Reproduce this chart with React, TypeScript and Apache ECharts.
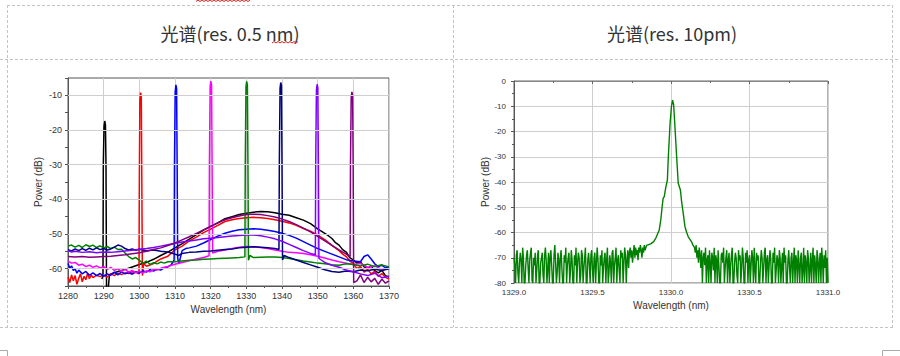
import React, { useEffect, useRef } from 'react';
import * as echarts from 'echarts';

type Pt = [number, number];

// ---------- header texts ----------
const titleLeft = '光谱(res. 0.5 nm)';
const titleRight = '光谱(res. 10pm)';
const axisNameX = 'Wavelength (nm)';
const axisNameY = 'Power (dB)';

// ---------- left chart (res 0.5 nm), eight channels ----------
const leftGridDb = [-10, -20, -30, -40, -50, -60];

const traceBlack: Pt[] = [[1289.5,-63],[1289.8,-62],[1289.9,-30],[1290.1,-18.8],[1290.3,-17.4],[1290.5,-18.5],[1290.65,-30],[1290.8,-65.5],[1291.3,-65.5],[1291.6,-62],[1292,-61.5],[1294,-60.8],[1296,-60.2],[1298,-59.5],[1300,-58.8],[1302,-58.2],[1304,-57.3],[1306,-56.2],[1308,-55.2],[1310,-54],[1312,-52.8],[1314,-51.5],[1316,-50.2],[1318,-48.9],[1320,-47.8],[1322,-46.8],[1324,-45.6],[1326,-45],[1328,-44.4],[1330,-44],[1332,-43.7],[1334,-43.5],[1336,-43.6],[1338,-43.9],[1340,-44.3],[1342,-44.6],[1344,-45.3],[1346,-46],[1348,-47],[1350,-48.5],[1352,-49.8],[1353,-50.5],[1354,-51.3],[1355,-52.5],[1356,-53.2],[1357,-54.5],[1358,-55.2],[1359,-56.8],[1360,-57.5],[1361,-58.4],[1362,-58],[1363,-59.5],[1364,-60],[1365,-59.2],[1366,-60.6],[1367,-61.2],[1368,-60.5],[1369,-62],[1370,-62.4]];

const traceRed: Pt[] = [[1280,-62.5],[1280.5,-64],[1281,-61.8],[1281.5,-63.5],[1282,-62],[1282.5,-64.5],[1283,-62.8],[1283.5,-61.5],[1284,-63.8],[1284.5,-62.2],[1285,-63.2],[1285.5,-61.3],[1286,-62.9],[1286.5,-61.8],[1287,-62.6],[1288,-61.9],[1289,-62.3],[1290,-61.8],[1291,-62.4],[1292,-61.5],[1293,-62],[1294,-61.3],[1295,-61.7],[1296,-61.2],[1297,-61.4],[1298,-60.9],[1299,-61],[1299.9,-61.5],[1300.0,-35],[1300.15,-11],[1300.35,-9.2],[1300.55,-10.5],[1300.7,-35],[1300.85,-62],[1301.2,-58.5],[1302,-59.3],[1304,-58.5],[1306,-57.2],[1308,-56.4],[1310,-54.6],[1312,-53.5],[1314,-52],[1316,-50.9],[1318,-49.6],[1320,-48.6],[1322,-47.5],[1324,-46.4],[1326,-45.9],[1328,-45.5],[1330,-45.3],[1332,-45.2],[1334,-45.3],[1336,-45.5],[1338,-45.9],[1340,-46.3],[1342,-46.8],[1344,-47.5],[1346,-48.4],[1348,-49.2],[1350,-50.3],[1352,-51.6],[1354,-53.3],[1356,-54.8],[1357,-55.8],[1358,-56.5],[1359,-57.8],[1360,-58.5],[1361,-60],[1362,-59.4],[1363,-61],[1364,-60.2],[1365,-61.5],[1366,-60.8],[1367,-62.2],[1368,-61.4],[1369,-62.5],[1370,-63]];

const traceBlue: Pt[] = [[1280,-58.5],[1280.5,-59.8],[1281,-59.2],[1281.5,-60.5],[1282,-60],[1282.5,-61.3],[1283,-60.4],[1284,-61.5],[1285,-60.8],[1286,-61.9],[1287,-61.2],[1288,-62],[1289,-61.4],[1290,-62.2],[1291,-61.5],[1292,-61.9],[1293,-61],[1294,-61.8],[1295,-60.9],[1296,-61.5],[1297,-61.1],[1298,-61.6],[1299,-60.9],[1300,-61.3],[1301,-60.6],[1302,-61],[1303,-60.3],[1304,-60.7],[1305,-60.1],[1306,-60.4],[1307,-59.7],[1308,-59.5],[1309,-58.8],[1309.75,-57.5],[1309.85,-30],[1310.05,-9],[1310.25,-7],[1310.45,-8],[1310.6,-30],[1310.75,-57],[1311.1,-58.5],[1312,-54.8],[1313,-54.2],[1314,-54],[1316,-53.5],[1318,-52.6],[1320,-51.6],[1322,-50.6],[1324,-49.8],[1326,-49.2],[1328,-48.8],[1330,-48.6],[1332,-48.5],[1334,-48.6],[1336,-48.9],[1338,-49.3],[1340,-49.8],[1342,-50.4],[1344,-51.2],[1346,-52.2],[1348,-53.2],[1350,-54.2],[1352,-55],[1354,-55.8],[1356,-56.6],[1358,-57.4],[1360,-57.8],[1362,-58],[1363,-56.5],[1364,-56],[1365,-57.2],[1366,-58.6],[1367,-59.4],[1368,-59],[1369,-59.8],[1370,-59.5]];

const traceMagenta: Pt[] = [[1280,-57.8],[1281,-58.4],[1282,-58.2],[1283,-59],[1284,-58.7],[1285,-59.4],[1286,-59],[1287,-59.6],[1288,-59.2],[1289,-59.8],[1290,-59.4],[1291,-60.2],[1292,-59.6],[1293,-60.5],[1294,-60],[1295,-60.8],[1296,-60.2],[1297,-61],[1298,-60.5],[1299,-61.2],[1300,-60.7],[1301,-61.3],[1302,-60.6],[1303,-60.9],[1304,-60.2],[1305,-60.4],[1306,-59.9],[1307,-59.6],[1308,-59.4],[1309,-59],[1310,-58.7],[1312,-58.2],[1314,-57.7],[1316,-57.2],[1318,-56.8],[1319.55,-56.3],[1319.65,-30],[1319.85,-7.5],[1320.05,-5.9],[1320.25,-7],[1320.4,-30],[1320.55,-55.5],[1322,-55],[1324,-54.6],[1326,-54.2],[1328,-53.8],[1330,-53.6],[1332,-53.7],[1334,-53.9],[1336,-54.2],[1338,-54.6],[1340,-55],[1342,-55.3],[1344,-55.4],[1346,-55.6],[1348,-56],[1350,-56.4],[1352,-56.9],[1354,-57.5],[1356,-58],[1358,-58.4],[1360,-58.8],[1362,-58.5],[1364,-59.6],[1366,-59.2],[1368,-60.3],[1370,-60]];

const traceGreen: Pt[] = [[1280,-53.5],[1281,-53.2],[1282,-53.8],[1283,-53.3],[1284,-53.9],[1285,-53.1],[1286,-53.6],[1287,-53.2],[1288,-53.9],[1289,-53.4],[1290,-54],[1291,-53.6],[1292,-54.2],[1293,-53.8],[1294,-54.5],[1295,-54.4],[1296,-55.5],[1297,-56.5],[1298,-57.2],[1299,-56.8],[1300,-57.6],[1301,-58.4],[1302,-57.8],[1303,-58.8],[1304,-58.3],[1305,-58.6],[1306,-58.1],[1307,-58.4],[1308,-58],[1310,-58],[1312,-57.8],[1314,-57.6],[1316,-57.5],[1318,-57.3],[1320,-57.2],[1322,-57.1],[1324,-57],[1326,-56.9],[1328,-56.8],[1329.6,-56.6],[1329.7,-30],[1329.9,-7.5],[1330.1,-6],[1330.3,-7],[1330.45,-30],[1330.6,-57.6],[1331.0,-56.2],[1332,-56.8],[1334,-56.7],[1336,-56.6],[1338,-56.6],[1340,-56.8],[1342,-57.1],[1344,-57.4],[1346,-57.8],[1348,-58.1],[1350,-58.4],[1352,-58.6],[1354,-58.9],[1356,-59],[1358,-58.6],[1360,-58.8],[1362,-59.2],[1364,-58.7],[1366,-59.4],[1368,-58.9],[1370,-59.5]];

const traceNavy: Pt[] = [[1280,-54.5],[1281,-54.9],[1282,-54.3],[1283,-54.8],[1284,-54.2],[1285,-54.7],[1286,-54.1],[1287,-54.6],[1288,-54],[1289,-54.5],[1290,-54.2],[1291,-54.6],[1292,-54.3],[1293,-53.8],[1294,-53.2],[1295,-53.5],[1296,-54.2],[1297,-54.6],[1298,-54.3],[1299,-54.7],[1300,-54.4],[1302,-54.8],[1304,-54.6],[1306,-55],[1308,-55.2],[1310,-55.8],[1311,-56.2],[1312,-55.6],[1314,-55.3],[1316,-55.2],[1318,-55],[1320,-54.9],[1322,-54.7],[1324,-54.5],[1326,-54.3],[1328,-54],[1330,-53.8],[1332,-53.7],[1334,-53.8],[1336,-54],[1338,-54.2],[1339.15,-54.5],[1339.25,-30],[1339.45,-8],[1339.65,-6.3],[1339.85,-7.2],[1340.0,-30],[1340.15,-57.5],[1340.6,-56.2],[1342,-56.8],[1344,-57.5],[1346,-58.2],[1348,-58.9],[1350,-59.6],[1352,-60.3],[1354,-60.8],[1356,-61],[1358,-60.7],[1360,-60.9],[1362,-60.4],[1364,-60.6],[1366,-60.2],[1368,-60.5],[1370,-60]];

const traceViolet: Pt[] = [[1280,-54.8],[1281,-55.2],[1282,-55],[1284,-55.3],[1286,-55.1],[1288,-55.4],[1290,-55.2],[1292,-55.3],[1294,-55.1],[1296,-54.9],[1298,-54.7],[1300,-54.4],[1302,-54.2],[1304,-53.9],[1306,-53.5],[1308,-53.1],[1310,-52.7],[1312,-52.3],[1314,-52],[1316,-51.7],[1318,-51.4],[1320,-51.2],[1322,-51],[1324,-50.8],[1326,-50.6],[1328,-50.4],[1330,-50.3],[1332,-50.3],[1334,-50.5],[1336,-50.9],[1338,-51.4],[1340,-52.1],[1342,-53],[1344,-53.9],[1346,-54.8],[1348,-55.6],[1349.35,-56],[1349.45,-30],[1349.65,-8.5],[1349.85,-6.8],[1350.05,-7.8],[1350.2,-30],[1350.35,-57],[1351,-57.5],[1352,-58.2],[1354,-59],[1356,-59.6],[1358,-60.4],[1360,-60.9],[1362,-61.5],[1364,-62],[1366,-61.3],[1368,-62.6],[1370,-62.2]];

const tracePurple: Pt[] = [[1280,-56.5],[1282,-56.6],[1284,-56.5],[1286,-56.7],[1288,-56.6],[1290,-56.5],[1292,-56.4],[1294,-56.2],[1296,-56],[1298,-55.7],[1300,-55.4],[1302,-55],[1304,-54.5],[1306,-54],[1308,-53.3],[1310,-52.6],[1312,-51.7],[1314,-50.8],[1316,-49.8],[1318,-48.8],[1320,-47.8],[1322,-46.8],[1324,-45.9],[1326,-45.3],[1328,-44.8],[1330,-44.4],[1332,-44.3],[1334,-44.4],[1336,-44.7],[1338,-45.1],[1340,-45.7],[1342,-46.4],[1344,-47.3],[1346,-48.3],[1348,-49.4],[1350,-50.7],[1352,-52],[1354,-53.3],[1356,-54.6],[1358,-55.8],[1359.1,-56.5],[1359.2,-30],[1359.4,-10.5],[1359.6,-9],[1359.8,-10],[1359.95,-30],[1360.1,-64],[1361,-63.5],[1362,-61.8],[1363,-64],[1364,-62.5],[1365,-63.8],[1366,-62.8],[1367,-64.5],[1368,-63],[1369,-64.2],[1370,-63.5]];

const leftTraces = [
  { name: '1290', color: '#000000', data: traceBlack },
  { name: '1300', color: '#ff0000', data: traceRed },
  { name: '1310', color: '#0000ff', data: traceBlue },
  { name: '1320', color: '#ff00ff', data: traceMagenta },
  { name: '1330', color: '#008000', data: traceGreen },
  { name: '1340', color: '#000080', data: traceNavy },
  { name: '1350', color: '#8000ff', data: traceViolet },
  { name: '1360', color: '#800080', data: tracePurple },
];

// ---------- right chart (res 10 pm), 1330 nm channel ----------
const noiseLeft: Pt[] = [[1329.000,-70],[1329.005,-73],[1329.010,-80],[1329.015,-69],[1329.020,-67],[1329.025,-76],[1329.030,-80],[1329.035,-72],[1329.040,-68],[1329.045,-71],
[1329.050,-80],[1329.055,-66],[1329.060,-70],[1329.065,-80],[1329.070,-80],[1329.075,-73],[1329.080,-69],[1329.085,-67],[1329.090,-74],[1329.095,-80],
[1329.100,-71],[1329.105,-68],[1329.110,-66],[1329.115,-79],[1329.120,-80],[1329.125,-70],[1329.130,-73],[1329.135,-68],[1329.140,-80],[1329.145,-75],
[1329.150,-69],[1329.155,-67],[1329.160,-80],[1329.165,-80],[1329.170,-72],[1329.175,-70],[1329.180,-68],[1329.185,-77],[1329.190,-80],[1329.195,-69],
[1329.200,-66],[1329.205,-71],[1329.210,-80],[1329.215,-74],[1329.220,-68],[1329.225,-80],[1329.230,-70],[1329.235,-67],[1329.240,-73],[1329.245,-80],
[1329.250,-80],[1329.255,-69],[1329.260,-65],[1329.265,-72],[1329.270,-80],[1329.275,-76],[1329.280,-68],[1329.285,-71],[1329.290,-80],[1329.295,-70],
[1329.300,-67],[1329.305,-74],[1329.310,-80],[1329.315,-80],[1329.320,-69],[1329.325,-72],[1329.330,-66],[1329.335,-80],[1329.340,-73],[1329.345,-70],
[1329.350,-68],[1329.355,-80],[1329.360,-75],[1329.365,-67],[1329.370,-71],[1329.375,-80],[1329.380,-80],[1329.385,-69],[1329.390,-73],[1329.395,-66],
[1329.400,-80],[1329.405,-72],[1329.410,-68],[1329.415,-70],[1329.420,-80],[1329.425,-77],[1329.430,-67],[1329.435,-69],[1329.440,-80],[1329.445,-74],
[1329.450,-70],[1329.455,-66],[1329.460,-80],[1329.465,-80],[1329.470,-71],[1329.475,-68],[1329.480,-73],[1329.485,-80],[1329.490,-69],[1329.495,-67],
[1329.500,-75],[1329.505,-80],[1329.510,-70],[1329.515,-68],[1329.520,-80],[1329.525,-72],[1329.530,-66],[1329.535,-71],[1329.540,-80],[1329.545,-80],
[1329.550,-69],[1329.555,-73],[1329.560,-67],[1329.565,-80],[1329.570,-74],[1329.575,-70],[1329.580,-68],[1329.585,-80],[1329.590,-71],[1329.595,-66],
[1329.600,-80],[1329.605,-76],[1329.610,-69],[1329.615,-72],[1329.620,-80],[1329.625,-68],[1329.630,-67],[1329.635,-80],[1329.640,-73],[1329.645,-70],
[1329.650,-66],[1329.655,-80],[1329.660,-71],[1329.665,-69],[1329.670,-75],[1329.675,-80],[1329.680,-67],[1329.685,-70],[1329.690,-68],[1329.695,-80],
[1329.700,-72],[1329.705,-66],[1329.710,-69],[1329.715,-80],[1329.720,-71],[1329.725,-67],[1329.730,-74],[1329.735,-68],[1329.740,-66],[1329.745,-70],
[1329.750,-67],[1329.755,-72],[1329.760,-68],[1329.765,-65],[1329.770,-70],[1329.775,-66],[1329.780,-69],[1329.785,-67],[1329.790,-71],[1329.795,-66],
[1329.800,-68],[1329.805,-65],[1329.810,-67],[1329.815,-70],[1329.820,-66],[1329.825,-68],[1329.830,-65],[1329.835,-67],[1329.840,-66],[1329.845,-65]];

const peak1330: Pt[] = [[1329.85,-65],[1329.87,-64.5],[1329.89,-63.6],[1329.905,-62],[1329.915,-60.5],[1329.925,-59],[1329.935,-55],[1329.945,-49],[1329.95,-46.5],[1329.957,-45.8],[1329.967,-42],[1329.977,-39.2],[1329.983,-30],[1329.994,-17],[1330.003,-10],[1330.01,-7.6],[1330.017,-9.5],[1330.025,-18],[1330.036,-30],[1330.046,-40.5],[1330.06,-43.2],[1330.068,-48],[1330.078,-52.4],[1330.089,-57.7],[1330.1,-60],[1330.11,-61.7],[1330.13,-63.6],[1330.14,-65]];

const noiseRight: Pt[] = [[1330.150,-66],[1330.155,-68],[1330.160,-65],[1330.165,-70],[1330.170,-67],[1330.175,-72],[1330.180,-66],[1330.185,-69],[1330.190,-74],[1330.195,-67],
[1330.200,-80],[1330.205,-70],[1330.210,-68],[1330.215,-73],[1330.220,-66],[1330.225,-80],[1330.230,-71],[1330.235,-69],[1330.240,-80],[1330.245,-67],
[1330.250,-72],[1330.255,-80],[1330.260,-68],[1330.265,-70],[1330.270,-75],[1330.275,-66],[1330.280,-80],[1330.285,-69],[1330.290,-71],[1330.295,-80],
[1330.300,-67],[1330.305,-73],[1330.310,-80],[1330.315,-80],[1330.320,-69],[1330.325,-68],[1330.330,-72],[1330.335,-66],[1330.340,-80],[1330.345,-74],
[1330.350,-70],[1330.355,-67],[1330.360,-80],[1330.365,-71],[1330.370,-68],[1330.375,-80],[1330.380,-73],[1330.385,-69],[1330.390,-66],[1330.395,-80],
[1330.400,-80],[1330.405,-72],[1330.410,-68],[1330.415,-70],[1330.420,-77],[1330.425,-80],[1330.430,-67],[1330.435,-71],[1330.440,-69],[1330.445,-80],
[1330.450,-74],[1330.455,-66],[1330.460,-70],[1330.465,-80],[1330.470,-80],[1330.475,-68],[1330.480,-72],[1330.485,-67],[1330.490,-80],[1330.495,-71],
[1330.500,-69],[1330.505,-80],[1330.510,-73],[1330.515,-67],[1330.520,-70],[1330.525,-80],[1330.530,-66],[1330.535,-75],[1330.540,-80],[1330.545,-68],
[1330.550,-71],[1330.555,-69],[1330.560,-80],[1330.565,-80],[1330.570,-72],[1330.575,-67],[1330.580,-70],[1330.585,-80],[1330.590,-74],[1330.595,-68],
[1330.600,-66],[1330.605,-80],[1330.610,-71],[1330.615,-69],[1330.620,-80],[1330.625,-73],[1330.630,-67],[1330.635,-70],[1330.640,-80],[1330.645,-80],
[1330.650,-68],[1330.655,-72],[1330.660,-66],[1330.665,-80],[1330.670,-75],[1330.675,-69],[1330.680,-71],[1330.685,-80],[1330.690,-67],[1330.695,-70],
[1330.700,-80],[1330.705,-73],[1330.710,-68],[1330.715,-80],[1330.720,-66],[1330.725,-72],[1330.730,-69],[1330.735,-80],[1330.740,-80],[1330.745,-71],
[1330.750,-67],[1330.755,-74],[1330.760,-80],[1330.765,-70],[1330.770,-68],[1330.775,-80],[1330.780,-72],[1330.785,-66],[1330.790,-80],[1330.795,-69],
[1330.800,-71],[1330.805,-80],[1330.810,-67],[1330.815,-73],[1330.820,-80],[1330.825,-70],[1330.830,-68],[1330.835,-80],[1330.840,-75],[1330.845,-66],
[1330.850,-80],[1330.855,-69],[1330.860,-72],[1330.865,-80],[1330.870,-67],[1330.875,-70],[1330.880,-80],[1330.885,-74],[1330.890,-68],[1330.895,-80],
[1330.900,-71],[1330.905,-66],[1330.910,-80],[1330.915,-69],[1330.920,-73],[1330.925,-80],[1330.930,-67],[1330.935,-70],[1330.940,-80],[1330.945,-72],
[1330.950,-68],[1330.955,-80],[1330.960,-66],[1330.965,-71],[1330.970,-80],[1330.975,-69],[1330.980,-74],[1330.985,-67],[1330.990,-80],[1330.995,-70],[1331.000,-80]];

const rightTrace: Pt[] = [...noiseLeft, ...peak1330, ...noiseRight];

const FONT = '"Liberation Sans", Arial, sans-serif';
const CJK = '"Noto Sans CJK SC", "Noto Sans", sans-serif';

function dashed(x1: number, y1: number, x2: number, y2: number) {
  return {
    type: 'line', silent: true,
    shape: { x1, y1, x2, y2 },
    style: { stroke: '#c4c4c4', lineWidth: 1, lineDash: [3, 2] },
  };
}

export default function App() {
  const ref = useRef<HTMLDivElement>(null);
  useEffect(() => {
    if (!ref.current) return;
    const chart = echarts.init(ref.current, undefined, { renderer: 'svg' });
    const axisLabelL = { color: '#333', fontSize: 9, fontFamily: FONT };
    const axisLabelR = { color: '#333', fontSize: 8, fontFamily: FONT };
    const nameStyle = { color: '#333', fontSize: 10, fontFamily: FONT };
    const gridLine = { show: true, lineStyle: { color: '#cfcfcf', width: 1 } };

    const series: any[] = [
      {
        type: 'line', xAxisIndex: 0, yAxisIndex: 0, data: [], z: 1, silent: true,
        markLine: {
          silent: true, symbol: 'none', label: { show: false },
          lineStyle: { color: '#cfcfcf', type: 'solid', width: 1 },
          data: leftGridDb.map((v) => ({ yAxis: v })),
        },
      },
      ...leftTraces.map((t) => ({
        type: 'line', name: t.name, xAxisIndex: 0, yAxisIndex: 0, data: t.data,
        showSymbol: false, symbol: 'none', z: 3,
        lineStyle: { color: t.color, width: 1.5 },
      })),
      {
        type: 'line', xAxisIndex: 1, yAxisIndex: 1, data: rightTrace,
        showSymbol: false, symbol: 'none', z: 3,
        lineStyle: { color: '#008000', width: 1.4 },
      },
    ];

    chart.setOption({
      animation: false,
      backgroundColor: '#ffffff',
      grid: [
        { left: 68, top: 78, width: 321, height: 208, show: true, borderColor: '#555', borderWidth: 1, backgroundColor: 'transparent' },
        { left: 514, top: 81, width: 314, height: 202, show: true, borderColor: '#666', borderWidth: 1, backgroundColor: 'transparent' },
      ],
      xAxis: [
        {
          type: 'value', gridIndex: 0, min: 1280, max: 1370, interval: 10,
          name: axisNameX, nameLocation: 'middle', nameGap: 17, nameTextStyle: nameStyle,
          axisLine: { show: true, lineStyle: { color: '#555' } },
          axisTick: { show: true, inside: false, length: 3, lineStyle: { color: '#555' } },
          minorTick: { show: true, splitNumber: 2, length: 2, lineStyle: { color: '#555' } },
          axisLabel: { ...axisLabelL, margin: 5, formatter: (v: number) => String(v) },
          splitLine: gridLine,
        },
        {
          type: 'value', gridIndex: 1, min: 1329, max: 1331, interval: 0.5,
          name: axisNameX, nameLocation: 'middle', nameGap: 17, nameTextStyle: nameStyle,
          axisLine: { show: true, lineStyle: { color: '#888' } },
          axisTick: { show: true, inside: false, length: 3, lineStyle: { color: '#666' } },
          minorTick: { show: true, splitNumber: 2, length: 2, lineStyle: { color: '#666' } },
          axisLabel: { ...axisLabelR, margin: 5, formatter: (v: number) => v.toFixed(1) },
          splitLine: gridLine,
        },
      ],
      yAxis: [
        {
          type: 'value', gridIndex: 0, min: -65, max: -5, interval: 5,
          name: axisNameY, nameLocation: 'middle', nameGap: 25, nameTextStyle: nameStyle,
          axisLine: { show: true, lineStyle: { color: '#555' } },
          axisTick: { show: true, inside: false, length: 3, lineStyle: { color: '#555' } },
          axisLabel: { ...axisLabelL, margin: 6, formatter: (v: number) => (v % 10 === 0 ? String(v) : '') },
          splitLine: { show: false },
        },
        {
          type: 'value', gridIndex: 1, min: -80, max: 0, interval: 10,
          name: axisNameY, nameLocation: 'middle', nameGap: 23, nameTextStyle: nameStyle,
          axisLine: { show: true, lineStyle: { color: '#555' } },
          axisTick: { show: true, inside: false, length: 3, lineStyle: { color: '#555' } },
          minorTick: { show: true, splitNumber: 2, length: 2, lineStyle: { color: '#555' } },
          axisLabel: { ...axisLabelR, margin: 8 },
          splitLine: gridLine,
        },
      ],
      series,
      graphic: {
        elements: [
          dashed(7, 5.5, 893, 5.5),
          dashed(0, 59.5, 900, 59.5),
          dashed(0, 327.5, 893, 327.5),
          dashed(7.5, 5, 7.5, 327),
          dashed(453.5, 5, 453.5, 327),
          dashed(892.5, 5, 892.5, 327),
          {
            type: 'text', silent: true, x: 230, y: 33,
            style: { text: titleLeft, fontSize: 18, fontFamily: CJK, fill: '#333', align: 'center', verticalAlign: 'middle', textAlign: 'center', textVerticalAlign: 'middle' },
          },
          {
            type: 'text', silent: true, x: 672, y: 33,
            style: { text: titleRight, fontSize: 18, fontFamily: CJK, fill: '#333', align: 'center', verticalAlign: 'middle', textAlign: 'center', textVerticalAlign: 'middle' },
          },
          {
            type: 'polyline', silent: true,
            shape: { points: [[272,43],[274,41.5],[276,43],[278,41.5],[280,43],[282,41.5],[284,43],[286,41.5],[288,43],[290,41.5],[292,43],[294,41.5],[296,43],[298,41.5]] },
            style: { stroke: '#e02020', lineWidth: 1, fill: 'none' },
          },
          {
            type: 'polyline', silent: true,
            shape: { points: [[196,1.5],[198,0],[200,1.5],[202,0],[204,1.5],[206,0],[208,1.5],[210,0],[212,1.5],[214,0],[216,1.5],[218,0],[220,1.5],[222,0],[224,1.5],[226,0],[228,1.5],[230,0],[232,1.5],[234,0],[236,1.5],[238,0],[240,1.5],[242,0],[244,1.5],[246,0],[248,1.5],[250,0]] },
            style: { stroke: '#e02020', lineWidth: 1, fill: 'none' },
          },
          { type: 'polyline', silent: true, shape: { points: [[0, 350.5], [7.5, 350.5], [7.5, 356]] }, style: { stroke: '#aaa', lineWidth: 1, fill: 'none' } },
          { type: 'polyline', silent: true, shape: { points: [[900, 350.5], [882.5, 350.5], [882.5, 356]] }, style: { stroke: '#aaa', lineWidth: 1, fill: 'none' } },
        ],
      },
    });
    return () => chart.dispose();
  }, []);

  return (
    <div
      ref={ref}
      style={{ position: 'absolute', left: 0, top: 0, width: 900, height: 356, background: '#fff' }}
    />
  );
}
